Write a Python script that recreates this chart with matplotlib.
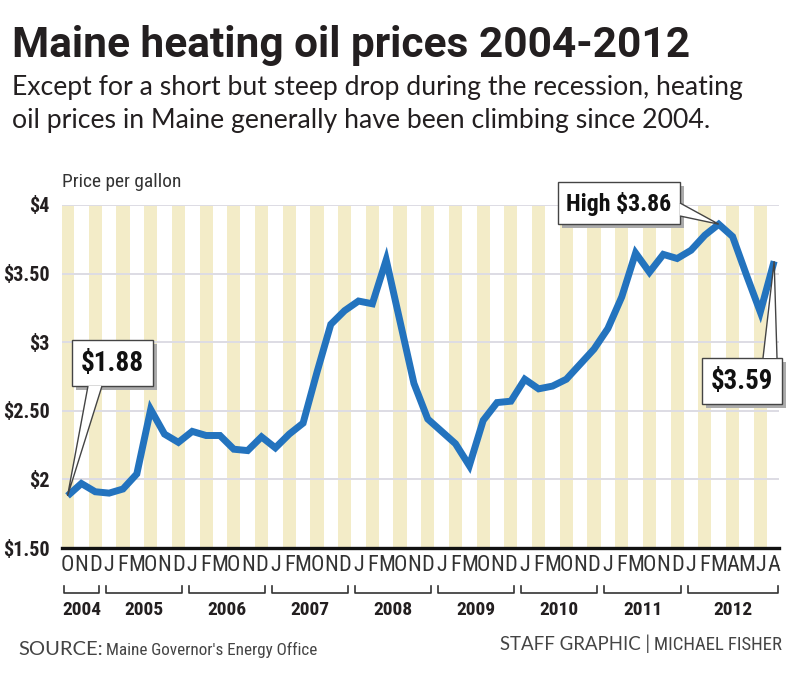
import matplotlib
matplotlib.use('Agg')
import matplotlib.pyplot as plt
from matplotlib import font_manager as fm
from matplotlib.patches import Rectangle, Polygon
from matplotlib.transforms import blended_transform_factory, IdentityTransform
import numpy as np

# ---------------- data ----------------
years = ['2004', '2005', '2006', '2007', '2008', '2009', '2010', '2011', '2012']
months_by_year = [
    ['O', 'N', 'D'],
    ['J', 'F', 'M', 'O', 'N', 'D'],
    ['J', 'F', 'M', 'O', 'N', 'D'],
    ['J', 'F', 'M', 'O', 'N', 'D'],
    ['J', 'F', 'M', 'O', 'N', 'D'],
    ['J', 'F', 'M', 'O', 'N', 'D'],
    ['J', 'F', 'M', 'O', 'N', 'D'],
    ['J', 'F', 'M', 'O', 'N', 'D'],
    ['J', 'F', 'M', 'A', 'M', 'J', 'A'],
]
prices = [1.88, 1.97, 1.91,
          1.90, 1.93, 2.04, 2.51, 2.33, 2.27,
          2.35, 2.32, 2.32, 2.22, 2.21, 2.31,
          2.23, 2.33, 2.41, 2.78, 3.13, 3.23,
          3.30, 3.28, 3.60, 3.15, 2.70, 2.44,
          2.35, 2.26, 2.10, 2.43, 2.56, 2.57,
          2.73, 2.66, 2.68, 2.73, 2.84, 2.95,
          3.10, 3.33, 3.65, 3.51, 3.64, 3.61,
          3.67, 3.78, 3.86, 3.77, 3.49, 3.22, 3.59]
ytick_vals = [1.5, 2.0, 2.5, 3.0, 3.5, 4.0]
ytick_labels = ['$1.50', '$2', '$2.50', '$3', '$3.50', '$4']
callouts = [(0, '$1.88'), (47, 'High $3.86'), (51, '$3.59')]

# ---------------- fonts ----------------
names = {f.name for f in fm.fontManager.ttflist}
def pick(*cands):
    for c in cands:
        if c in names:
            return c
    return 'DejaVu Sans'
COND = pick('Roboto Condensed', 'Liberation Sans Narrow', 'DejaVu Sans Condensed', 'Roboto')
HEAD = pick('Roboto', 'Lato', 'Open Sans')
SANS = pick('Lato', 'Open Sans', 'Roboto')
NARROW = COND in ('Liberation Sans Narrow', 'Roboto Condensed', 'DejaVu Sans Condensed')

DARK = '#231f20'
BLUE = '#2373be'
STRIPE = '#f3ecc8'
GRID = '#dddce4'

W, H = 800, 675
fig = plt.figure(figsize=(W / 100, H / 100), dpi=100)
fig.patch.set_facecolor('white')

def fy(px):
    return 1 - px / H

ax = fig.add_axes([62 / W, fy(548), (779 - 62) / W, (548 - 205) / H])

month_labels = [m for ms in months_by_year for m in ms]
x = np.arange(len(prices))

# stripes on alternating months
ax.bar(x[::2], height=ytick_vals[-1] - ytick_vals[0], bottom=ytick_vals[0],
       width=0.95, color=STRIPE, zorder=1, linewidth=0)
for v in ytick_vals[1:]:
    ax.axhline(v, color=GRID, lw=1.4, zorder=2)
ax.plot(x, prices, color=BLUE, lw=5.0, zorder=3, solid_joinstyle='miter',
        solid_capstyle='butt')

ax.set_xlim(-0.4, len(prices) - 1 + 0.35)
ax.set_ylim(ytick_vals[0], ytick_vals[-1])
for s in ['top', 'right', 'left']:
    ax.spines[s].set_visible(False)
ax.spines['bottom'].set_linewidth(2.4)
ax.spines['bottom'].set_color('#111111')
ax.spines['bottom'].set_zorder(4)

ax.set_yticks(ytick_vals)
ax.set_yticklabels(ytick_labels, fontfamily=COND, fontweight='bold',
                   fontsize=14.5 if NARROW else 12, color=DARK)
ax.set_xticks(x)
ax.set_xticklabels(month_labels, fontfamily=COND,
                   fontsize=16 if NARROW else 11, color='#333333')
ax.tick_params(axis='both', length=0)
ax.tick_params(axis='y', pad=9)
ax.tick_params(axis='x', pad=5)

# year brackets
bt = blended_transform_factory(ax.transData, fig.transFigure)
start = 0
for yr, ms in zip(years, months_by_year):
    a, b = start - 0.25, start + len(ms) - 1 + 0.25
    ax.plot([a, a, b, b], [fy(586), fy(593), fy(593), fy(586)], transform=bt,
            color='#333333', lw=1.2, clip_on=False)
    ax.text((a + b) / 2, fy(601), yr, transform=bt, ha='center', va='top',
            fontfamily=COND, fontweight='bold', fontsize=14 if NARROW else 12,
            color=DARK)
    start += len(ms)

# titles
t_title = fig.text(12 / W, fy(57), 'Maine heating oil prices 2004-2012',
                   fontfamily=HEAD, fontweight='bold', fontsize=32, color=DARK,
                   va='baseline', ha='left')
t_sub1 = fig.text(12 / W, fy(95), 'Except for a short but steep drop during the recession, heating',
                  fontfamily=SANS, fontsize=16, color=DARK, va='baseline', ha='left')
t_sub2 = fig.text(12 / W, fy(128), 'oil prices in Maine generally have been climbing since 2004.',
                  fontfamily=SANS, fontsize=16, color=DARK, va='baseline', ha='left')
t_ppg = fig.text(62 / W, fy(187), 'Price per gallon', fontfamily=COND,
                 fontsize=14 if NARROW else 11, color='#333333', va='baseline')

t_src1 = fig.text(18 / W, fy(655), 'SOURCE:', fontfamily=SANS, fontsize=12,
                  color='#444444', va='baseline')
t_src2 = fig.text(106 / W, fy(655), "Maine Governor's Energy Office", fontfamily=COND,
                  fontsize=12, color='#444444', va='baseline')
t_st1 = fig.text(500 / W, fy(650), 'STAFF GRAPHIC |', fontfamily=SANS, fontsize=11,
                 color='#444444', va='baseline')
t_st2 = fig.text(782 / W, fy(650), 'MICHAEL FISHER', fontfamily=COND, fontsize=11,
                 color='#444444', va='baseline', ha='right')

# callout boxes: (box left, top, right, bottom in px from top-left), wedge base
boxes = {
    0: dict(box=(72, 340, 153, 386), base=((88, 386), (102, 386))),
    47: dict(box=(558, 182, 680, 224), base=((680, 203), (680, 216))),
    51: dict(box=(702, 358, 782, 404), base=((763, 358), (777, 358))),
}
ident = IdentityTransform()
def disp(px, py):
    return (px, H - py)

callout_texts = []
for idx, label in callouts:
    spec = boxes[idx]
    l, t, r, b = spec['box']
    tip = ax.transData.transform((x[idx], prices[idx]))
    fig.patches.append(Rectangle(disp(l + 4, b + 4), r - l, b - t, transform=ident,
                                 facecolor='#ababab', edgecolor='none', zorder=8,
                                 figure=fig))
    fig.patches.append(Rectangle(disp(l, b), r - l, b - t, transform=ident,
                                 facecolor='white', edgecolor='#444444', lw=1.0,
                                 zorder=9, figure=fig))
    (x1, y1), (x2, y2) = spec['base']
    wedge = Polygon([disp(x1, y1), (tip[0], tip[1]), disp(x2, y2)], closed=False,
                    transform=ident, facecolor='white', edgecolor='#444444', lw=1.0,
                    zorder=10, figure=fig)
    fig.patches.append(wedge)
    tt = fig.text(((l + r) / 2) / W, fy((t + b) / 2 + 1), label, ha='center', va='center',
                  fontfamily=COND, fontweight='bold', fontsize=22 if NARROW else 18,
                  color='#111111', zorder=11)
    callout_texts.append((tt, (r - l) * 0.78 if idx != 47 else (r - l) * 0.86))

# fit widths of texts to the reference
fig.canvas.draw()
r = fig.canvas.get_renderer()
def fit(t, width):
    w = t.get_window_extent(r).width
    t.set_fontsize(t.get_fontsize() * width / w)

fit(t_title, 678)
fit(t_sub1, 733)
t_sub2.set_fontsize(t_sub1.get_fontsize())
fit(t_ppg, 120)
fit(t_src1, 84)
fit(t_src2, 212)
fit(t_st1, 150)
fit(t_st2, 128)
for tt, wdt in callout_texts:
    fit(tt, wdt)

fig.savefig('out.png', dpi=100, facecolor='white')
